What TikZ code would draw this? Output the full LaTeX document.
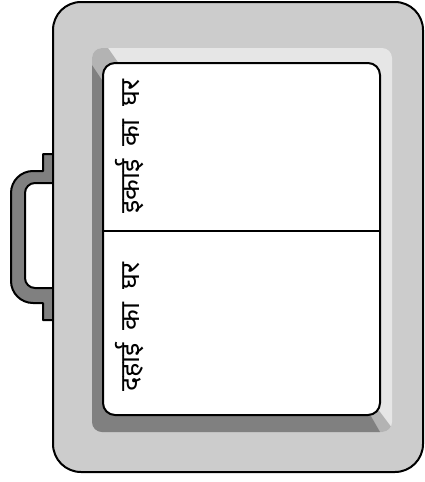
\documentclass[tikz,border=0pt]{standalone}
\usepackage{fontspec}
\newfontfamily\deva[Script=Devanagari,WordSpace=1.8]{Noto Sans}
\definecolor{bodygray}{HTML}{CCCCCC}
\definecolor{handlegray}{HTML}{808080}
\definecolor{litegray}{HTML}{E6E6E6}
\definecolor{midgray}{HTML}{B3B3B3}
\definecolor{darkgray}{HTML}{808080}
\begin{document}
\begin{tikzpicture}[x=1pt,y=-1pt,line join=round,
  outline/.style={draw=black,line width=2pt},
  hindi/.style={font=\deva\fontsize{27}{27}\selectfont,rotate=90,inner sep=0pt}]
\useasboundingbox (0,0) rectangle (425,482);
% handle
\path[outline,fill=handlegray]
  (55,154) -- (43,154) -- (43,171) -- (33,171)
  arc[start angle=270,end angle=180,radius=22] -- (11,281)
  arc[start angle=180,end angle=90,radius=22] -- (43,303) -- (43,320) -- (55,320)
  -- (55,288) -- (35,288)
  arc[start angle=90,end angle=180,radius=10] -- (25,193)
  arc[start angle=180,end angle=270,radius=10] -- (55,183) -- cycle;
% body
\path[outline,fill=bodygray,rounded corners=28pt] (53,2) rectangle (423,472);
% recess with bevel
\begin{scope}
  \clip[rounded corners=10pt] (92,48) rectangle (392,432);
  \fill[litegray] (80,40) rectangle (400,440);
  \fill[midgray] (101,38) -- (122,68) -- (368,396) -- (404,444) -- (60,444) -- (60,38) -- cycle;
  \fill[darkgray] (84,53) -- (104,83) -- (364,404) -- (384,439) -- (60,444) -- (60,53) -- cycle;
\end{scope}
% panel
\path[outline,fill=white,rounded corners=12pt] (103,63) rectangle (380,415);
\coordinate (dl) at (103,231);
\coordinate (dr) at (380,231);
\draw[line width=2pt] (dl) -- (dr);
% texts
\node[hindi,anchor=base west] (t1) at (139,214) {इकाई का घर};
\node[hindi,anchor=base west] (t2) at (139,392) {दहाई का घर};
\end{tikzpicture}
\end{document}
